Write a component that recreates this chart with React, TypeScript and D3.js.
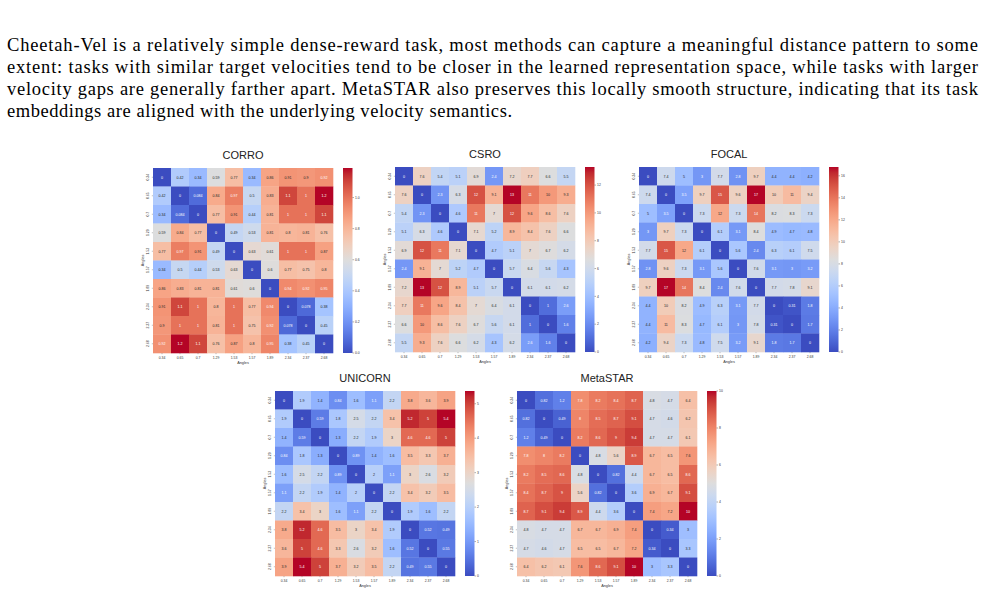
import * as d3 from "d3";
import React from "react";

// tick labels shared by every heatmap (task target angles)
const angles = ["0.34", "0.65", "0.7", "1.29", "1.53", "1.57", "1.89", "2.34", "2.37", "2.68"];

const corroValues = [
	[0, 0.42, 0.34, 0.59, 0.77, 0.34, 0.86, 0.91, 0.9, 0.92],
	[0.42, 0, 0.084, 0.84, 0.97, 0.5, 0.83, 1.1, 1, 1.19],
	[0.34, 0.084, 0, 0.77, 0.91, 0.44, 0.81, 1, 1, 1.1],
	[0.59, 0.84, 0.77, 0, 0.49, 0.53, 0.81, 0.8, 0.81, 0.76],
	[0.77, 0.97, 0.91, 0.49, 0, 0.63, 0.61, 1, 1, 0.87],
	[0.34, 0.5, 0.44, 0.53, 0.63, 0, 0.6, 0.77, 0.75, 0.8],
	[0.86, 0.83, 0.81, 0.81, 0.61, 0.6, 0, 0.94, 0.92, 0.95],
	[0.91, 1.1, 1, 0.8, 1, 0.77, 0.94, 0, 0.078, 0.38],
	[0.9, 1, 1, 0.81, 1, 0.75, 0.92, 0.078, 0, 0.45],
	[0.92, 1.19, 1.1, 0.76, 0.87, 0.8, 0.95, 0.38, 0.45, 0],
];

const csroValues = [
	[0, 7.6, 5.4, 5.1, 6.9, 2.4, 7.2, 7.7, 6.6, 5.5],
	[7.6, 0, 2.3, 6.3, 12, 9.1, 13.3, 11, 10, 9.3],
	[5.4, 2.3, 0, 4.6, 11, 7, 12, 9.6, 8.6, 7.6],
	[5.1, 6.3, 4.6, 0, 7.1, 5.2, 8.9, 8.4, 7.6, 6.6],
	[6.9, 12, 11, 7.1, 0, 4.7, 5.1, 7, 6.7, 6.2],
	[2.4, 9.1, 7, 5.2, 4.7, 0, 5.7, 6.4, 5.6, 4.3],
	[7.2, 13.3, 12, 8.9, 5.1, 5.7, 0, 6.1, 6.1, 6.2],
	[7.7, 11, 9.6, 8.4, 7, 6.4, 6.1, 0, 1, 2.6],
	[6.6, 10, 8.6, 7.6, 6.7, 5.6, 6.1, 1, 0, 1.6],
	[5.5, 9.3, 7.6, 6.6, 6.2, 4.3, 6.2, 2.6, 1.6, 0],
];

const focalValues = [
	[0, 7.4, 5, 3, 7.7, 2.8, 9.7, 4.4, 4.4, 4.2],
	[7.4, 0, 3.5, 9.7, 15, 9.6, 16.8, 10, 11, 9.4],
	[5, 3.5, 0, 7.3, 12, 7.3, 14, 8.2, 8.3, 7.3],
	[3, 9.7, 7.3, 0, 6.1, 3.1, 8.4, 4.9, 4.7, 4.8],
	[7.7, 15, 12, 6.1, 0, 5.6, 2.4, 6.3, 6.1, 7.5],
	[2.8, 9.6, 7.3, 3.1, 5.6, 0, 7.6, 3.1, 3, 3.2],
	[9.7, 16.8, 14, 8.4, 2.4, 7.6, 0, 7.7, 7.8, 9.1],
	[4.4, 10, 8.2, 4.9, 6.3, 3.1, 7.7, 0, 0.31, 1.8],
	[4.4, 11, 8.3, 4.7, 6.1, 3, 7.8, 0.31, 0, 1.7],
	[4.2, 9.4, 7.3, 4.8, 7.5, 3.2, 9.1, 1.8, 1.7, 0],
];

const unicornValues = [
	[0, 1.9, 1.4, 0.84, 1.6, 1.1, 2.2, 3.8, 3.6, 3.9],
	[1.9, 0, 0.59, 1.8, 2.5, 2.2, 3.4, 5.2, 5, 5.37],
	[1.4, 0.59, 0, 1.3, 2.2, 1.9, 3, 4.6, 4.6, 5],
	[0.84, 1.8, 1.3, 0, 0.89, 1.4, 1.6, 3.5, 3.3, 3.7],
	[1.6, 2.5, 2.2, 0.89, 0, 2, 1.1, 3, 2.6, 3.2],
	[1.1, 2.2, 1.9, 1.4, 2, 0, 2.2, 3.4, 3.2, 3.5],
	[2.2, 3.4, 3, 1.6, 1.1, 2.2, 0, 1.9, 1.6, 2.2],
	[3.8, 5.2, 4.6, 3.5, 3, 3.4, 1.9, 0, 0.52, 0.49],
	[3.6, 5, 4.6, 3.3, 2.6, 3.2, 1.6, 0.52, 0, 0.55],
	[3.9, 5.37, 5, 3.7, 3.2, 3.5, 2.2, 0.49, 0.55, 0],
];

const metastarValues = [
	[0, 0.82, 1.2, 7.8, 8.2, 8.4, 8.7, 4.8, 4.7, 6.4],
	[0.82, 0, 0.49, 8, 8.5, 8.7, 9.1, 4.7, 4.6, 6.2],
	[1.2, 0.49, 0, 8.2, 8.6, 9, 9.4, 4.7, 4.7, 6.1],
	[7.8, 8, 8.2, 0, 4.8, 5.6, 8.9, 6.7, 6.5, 7.6],
	[8.2, 8.5, 8.6, 4.8, 0, 0.82, 4.4, 6.7, 6.5, 8.6],
	[8.4, 8.7, 9, 5.6, 0.82, 0, 3.6, 6.9, 6.7, 9.1],
	[8.7, 9.1, 9.4, 8.9, 4.4, 3.6, 0, 7.4, 7.2, 10],
	[4.8, 4.7, 4.7, 6.7, 6.7, 6.9, 7.4, 0, 0.34, 3],
	[4.7, 4.6, 4.7, 6.5, 6.5, 6.7, 7.2, 0.34, 0, 3.3],
	[6.4, 6.2, 6.1, 7.6, 8.6, 9.1, 10, 3, 3.3, 0],
];

// colorbar tick labels
const corroTicks = [0, 0.2, 0.4, 0.6, 0.8, 1.0];
const csroTicks = [0, 2, 4, 6, 8, 10, 12];
const focalTicks = [0, 2, 4, 6, 8, 10, 12, 14, 16];
const unicornTicks = [0, 1, 2, 3, 4, 5];
const metastarTicks = [0, 2, 4, 6, 8, 10];

const paragraph = [
	"Cheetah-Vel is a relatively simple dense-reward task, most methods can capture a meaningful distance pattern to some",
	"extent: tasks with similar target velocities tend to be closer in the learned representation space, while tasks with larger",
	"velocity gaps are generally farther apart. MetaSTAR also preserves this locally smooth structure, indicating that its task",
	"embeddings are aligned with the underlying velocity semantics.",
];
// rendered width of each paragraph line (last line is not justified)
const lineWidths = [971, 971, 971, 505];

// matplotlib coolwarm (Moreland diverging map)
const coolwarmStops = [
	"rgb(59,76,192)", "rgb(68,90,204)", "rgb(77,104,215)", "rgb(87,117,225)",
	"rgb(98,130,234)", "rgb(108,142,241)", "rgb(119,154,247)", "rgb(130,165,251)",
	"rgb(141,176,254)", "rgb(152,185,255)", "rgb(163,194,255)", "rgb(174,201,253)",
	"rgb(184,208,249)", "rgb(194,213,244)", "rgb(204,217,238)", "rgb(213,219,230)",
	"rgb(221,221,221)", "rgb(229,216,209)", "rgb(236,211,197)", "rgb(241,204,185)",
	"rgb(245,196,173)", "rgb(247,187,160)", "rgb(247,177,148)", "rgb(247,166,135)",
	"rgb(244,154,123)", "rgb(241,141,111)", "rgb(236,127,99)", "rgb(229,112,88)",
	"rgb(222,96,77)", "rgb(213,80,66)", "rgb(203,62,56)", "rgb(192,40,47)",
	"rgb(180,4,38)",
];
const coolwarm = d3.piecewise(d3.interpolateRgb, coolwarmStops);

const FONT = "Liberation Sans, Arial, sans-serif";
const HM_W = 180;
const HM_H = 185;
const fmtCell = d3.format(".2~g");

function annotColor(c: string) {
	const { r, g, b } = d3.rgb(c);
	const lin = (v: number) => {
		v /= 255;
		return v <= 0.03928 ? v / 12.92 : Math.pow((v + 0.055) / 1.055, 2.4);
	};
	const lum = 0.2126 * lin(r) + 0.7152 * lin(g) + 0.0722 * lin(b);
	return lum > 0.408 ? "#262626" : "#ffffff";
}

function Heatmap({
	id,
	title,
	values,
	ticks,
	tickFmt,
	x,
	y,
}: {
	id: string;
	title: string;
	values: number[][];
	ticks: number[];
	tickFmt: (v: number) => string;
	x: number;
	y: number;
}) {
	const vmax = d3.max(values.flat()) as number;
	const color = d3.scaleSequential(coolwarm).domain([0, vmax]);
	const xs = d3.scaleBand<string>().domain(angles).range([0, HM_W]);
	const ys = d3.scaleBand<string>().domain(angles).range([0, HM_H]);
	const cbX = HM_W + 10;
	const cbW = 9.5;
	const cbScale = d3.scaleLinear().domain([0, vmax]).range([HM_H, 0]);
	const gradStops = d3.range(0, 1.0001, 1 / 32);

	return (
		<g transform={`translate(${x},${y})`} fontFamily={FONT}>
			<text x={HM_W / 2} y={-9} textAnchor="middle" fontSize={11} fill="#222">
				{title}
			</text>
			{values.map((row, i) =>
				row.map((v, j) => {
					const c = color(v);
					return (
						<g key={`${i}-${j}`}>
							<rect
								x={xs(angles[j])}
								y={ys(angles[i])}
								width={xs.bandwidth() + 0.3}
								height={ys.bandwidth() + 0.3}
								fill={c}
							/>
							<text
								x={(xs(angles[j]) as number) + xs.bandwidth() / 2}
								y={(ys(angles[i]) as number) + ys.bandwidth() / 2}
								dy="0.35em"
								textAnchor="middle"
								fontSize={3.6}
								fill={annotColor(c)}
							>
								{fmtCell(v)}
							</text>
						</g>
					);
				}),
			)}
			{/* x axis */}
			{angles.map((a) => {
				const cx = (xs(a) as number) + xs.bandwidth() / 2;
				return (
					<g key={`x${a}`}>
						<line x1={cx} x2={cx} y1={HM_H} y2={HM_H + 1.2} stroke="#333" strokeWidth={0.3} />
						<text x={cx} y={HM_H + 5.5} textAnchor="middle" fontSize={3.4} fill="#333">
							{a}
						</text>
					</g>
				);
			})}
			<text x={HM_W / 2} y={HM_H + 10.5} textAnchor="middle" fontSize={3.8} fill="#333">
				Angles
			</text>
			{/* y axis */}
			{angles.map((a) => {
				const cy = (ys(a) as number) + ys.bandwidth() / 2;
				return (
					<g key={`y${a}`}>
						<line x1={-1.2} x2={0} y1={cy} y2={cy} stroke="#333" strokeWidth={0.3} />
						<text
							transform={`translate(${-4.5},${cy}) rotate(-90)`}
							textAnchor="middle"
							fontSize={3.4}
							fill="#333"
						>
							{a}
						</text>
					</g>
				);
			})}
			<text
				transform={`translate(${-9.5},${HM_H / 2}) rotate(-90)`}
				textAnchor="middle"
				fontSize={3.8}
				fill="#333"
			>
				Angles
			</text>
			{/* colorbar */}
			<defs>
				<linearGradient id={`grad-${id}`} x1="0" y1="1" x2="0" y2="0">
					{gradStops.map((t) => (
						<stop key={t} offset={t} stopColor={coolwarm(t)} />
					))}
				</linearGradient>
			</defs>
			<rect x={cbX} y={0} width={cbW} height={HM_H} fill={`url(#grad-${id})`} />
			{ticks.map((t) => (
				<g key={`c${t}`}>
					<line
						x1={cbX + cbW}
						x2={cbX + cbW + 1.5}
						y1={cbScale(t)}
						y2={cbScale(t)}
						stroke="#333"
						strokeWidth={0.4}
					/>
					<text x={cbX + cbW + 2.5} y={cbScale(t)} dy="0.35em" fontSize={3.4} fill="#333">
						{tickFmt(t)}
					</text>
				</g>
			))}
		</g>
	);
}

export default function App() {
	const f1 = d3.format(".1f");
	const f0 = d3.format("d");
	return (
		<svg
			width={986}
			height={595}
			style={{ position: "absolute", left: 0, top: 0, background: "#fff" }}
		>
			<rect width={986} height={595} fill="#fff" />
			{paragraph.map((line, i) => (
				<text
					key={i}
					x={7}
					y={51 + i * 22}
					fontFamily="Times New Roman, Liberation Serif, serif"
					fontSize={18.5}
					fill="#000"
					textLength={lineWidths[i]}
					lengthAdjust="spacing"
				>
					{line}
				</text>
			))}
			<Heatmap id="corro" title="CORRO" values={corroValues} ticks={corroTicks} tickFmt={f1} x={153} y={168} />
			<Heatmap id="csro" title="CSRO" values={csroValues} ticks={csroTicks} tickFmt={f0} x={395} y={167} />
			<Heatmap id="focal" title="FOCAL" values={focalValues} ticks={focalTicks} tickFmt={f0} x={639} y={167} />
			<Heatmap id="unicorn" title="UNICORN" values={unicornValues} ticks={unicornTicks} tickFmt={f0} x={275} y={391} />
			<Heatmap id="metastar" title="MetaSTAR" values={metastarValues} ticks={metastarTicks} tickFmt={f0} x={517} y={391} />
		</svg>
	);
}
